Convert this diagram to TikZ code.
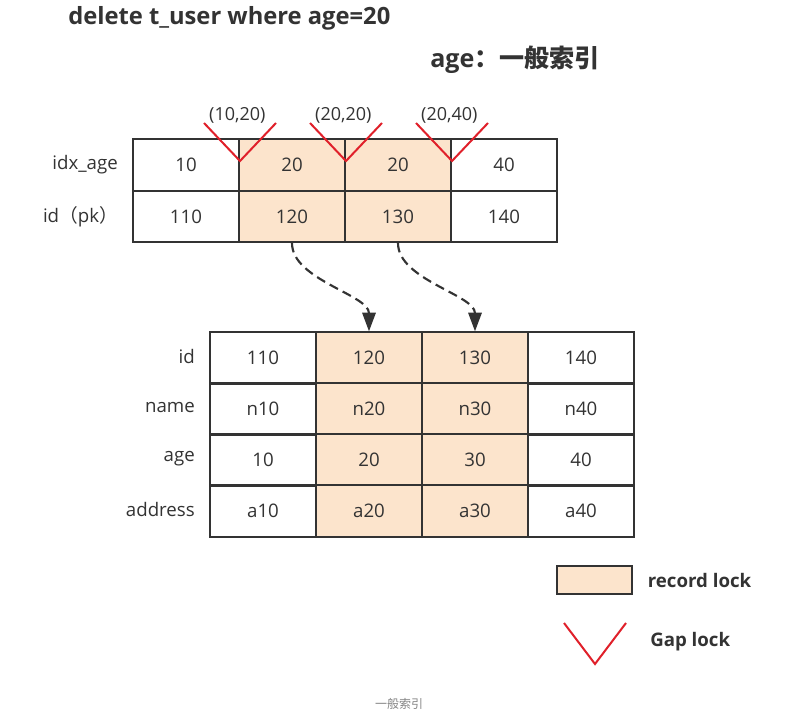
\documentclass[tikz,border=0pt]{standalone}
\usepackage{fontspec}
\setmainfont{Open Sans}
\newfontfamily\cjk{Noto Sans CJK SC}
\usetikzlibrary{arrows.meta,positioning}

\definecolor{ink}{HTML}{333333}
\definecolor{peach}{HTML}{FCE4CC}
\definecolor{gapred}{HTML}{E0202A}

\tikzset{
  cell/.style={draw=ink,line width=1.5pt,minimum width=79.5pt,minimum height=38.5pt,inner sep=0pt,text=ink,font=\fontsize{14pt}{16pt}\selectfont},
  lockcell/.style={cell,fill=peach},
  rowlab/.style={text=ink,inner sep=0pt,font=\fontsize{14pt}{16pt}\selectfont},
  gaptext/.style={text=ink,inner sep=0pt,font=\fontsize{13.5pt}{16pt}\selectfont},
  legtext/.style={text=ink,inner sep=0pt,font=\bfseries\fontsize{14pt}{16pt}\selectfont},
  gapline/.style={draw=gapred,line width=1.5pt},
  dasharrow/.style={draw=ink,line width=1.6pt,dash pattern=on 7pt off 4pt,-{Triangle[width=10pt,length=14pt]}},
  gaplock/.pic={\draw[gapline] (-36,-38) -- (0,0) -- (36,-38);}
}

\begin{document}
\begin{tikzpicture}[x=0.75pt,y=-0.75pt]
\useasboundingbox[fill=white] (0,0) rectangle (810,723);

\node (title) at (68,18) [anchor=west,text=ink,inner sep=0pt,font=\bfseries\fontsize{17.8pt}{20pt}\selectfont] {delete t\_user where age=20};
\node (kind) at (430,60) [anchor=west,text=ink,inner sep=0pt,font=\bfseries\fontsize{18.8pt}{21pt}\selectfont] {age{\cjk\bfseries ：一般索引}};

\foreach \v/\s [count=\c] in {10/cell,20/lockcell,20/lockcell,40/cell} {
\node[\s] (a1\c) at ({186+106*(\c-1)},165) {\v};
}
\foreach \v/\s [count=\c] in {110/cell,120/lockcell,130/lockcell,140/cell} {
\node[\s] (a2\c) at ({186+106*(\c-1)},216.5) {\v};
}
\node[rowlab,left=10.5pt of a11] (la1) {idx\_age};
\node[rowlab,left=10.5pt of a21] (la2) {id{\cjk （}pk{\cjk ）}};

\foreach \g [count=\c] in {(10,20),(20,20),(20,40)} {
\pic at ([yshift=3pt]a1\c.east) {gaplock};
\node[gaptext] (g\c) at ([xshift=-2pt,yshift=37.5pt]a1\c.east) {\g};
}

\foreach \lab/\pre [count=\r] in {id/1,name/n,age/{},address/a} {
\foreach \c/\s in {1/cell,2/lockcell,3/lockcell,4/cell} {
\node[\s] (b\r\c) at ({263+106*(\c-1)},{358+51*(\r-1)}) {\pre\c0};
}
\node[rowlab,left=10.5pt of b\r1,yshift=1pt] (lb\r) {\lab};
}

\draw[dasharrow] (a22.south) to[out=-90,in=90,looseness=0.8] (b12.north);
\draw[dasharrow] (a23.south) to[out=-90,in=90,looseness=0.8] (b13.north);

\node[lockcell,minimum width=56pt,minimum height=21pt] (rec) at (594.5,580) {};
\node[legtext,right=11pt of rec] (rectext) {record lock};
\draw[gapline] (564,623) -- (595,664) -- (626,623);
\node[legtext,anchor=west] (gaptext) at (650,642) {Gap lock};

\node (cap) at (399,704) [text=ink!60,inner sep=0pt,font=\cjk\fontsize{9pt}{11pt}\selectfont] {一般索引};
\end{tikzpicture}
\end{document}
